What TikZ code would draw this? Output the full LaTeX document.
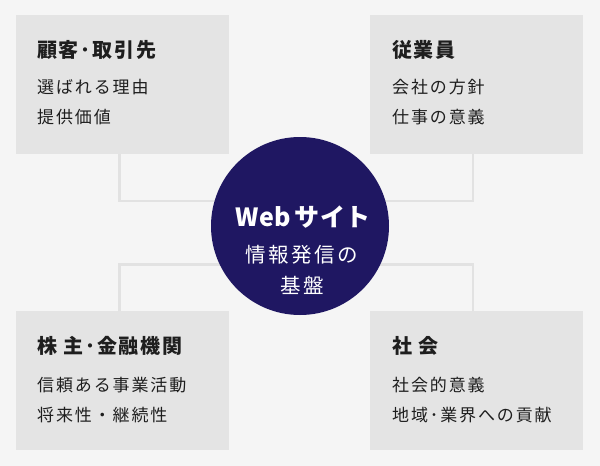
\documentclass[tikz,border=0pt]{standalone}
\usepackage{fontspec}
\setmainfont{Noto Sans CJK JP}
\newfontfamily\jpttl{Noto Sans CJK JP}[LetterSpace=9]
\newfontfamily\jpsub{Noto Sans CJK JP}[LetterSpace=11]
\newfontfamily\jpmid{Noto Sans CJK JP}[LetterSpace=12]
\newfontfamily\jpnarrow{Noto Sans CJK JP}[LetterSpace=2]
\definecolor{bg}{HTML}{F5F5F5}
\definecolor{boxc}{HTML}{E4E4E4}
\definecolor{linec}{HTML}{E2E2E2}
\definecolor{navy}{HTML}{1F1762}
\definecolor{ink}{HTML}{1E1E1E}
\begin{document}
\begin{tikzpicture}[x=1pt,y=-1pt,
  box/.style={fill=boxc,draw=none,minimum width=213pt,minimum height=139pt,inner sep=0pt,anchor=north west},
  ttl/.style={anchor=west,inner sep=0pt,text=ink,font=\jpttl\bfseries\fontsize{20}{24}\selectfont},
  sub/.style={anchor=west,inner sep=0pt,text=ink,font=\jpsub\fontsize{17}{20}\selectfont},
  conn/.style={draw=linec,line width=2.6pt},
  hub/.style={circle,fill=navy,minimum size=178pt,inner sep=0pt},
  hubt/.style={text=white,inner sep=0pt,font=\jpnarrow\bfseries\fontsize{25}{30}\selectfont},
  hubs/.style={text=white,inner sep=0pt,font=\jpmid\fontsize{20.5}{24}\selectfont}
]
\fill[bg] (0,0) rectangle (600,466);
\useasboundingbox (0,0) rectangle (600,466);

\node[box] (tl) at (16,15) {};
\node[box] (tr) at (370,15) {};
\node[box] (bl) at (16,311) {};
\node[box] (br) at (370,311) {};

\coordinate (hc) at (300,226);
\coordinate (j1) at (119.5,201);
\coordinate (j2) at (473,201);
\coordinate (j3) at (119.5,264.5);
\coordinate (j4) at (473,264.5);

\draw[conn] (tl.south -| j1) -- (j1) -- (j1 -| hc);
\draw[conn] (tr.south -| j2) -- (j2) -- (j2 -| hc);
\draw[conn] (bl.north -| j3) -- (j3) -- (j3 -| hc);
\draw[conn] (br.north -| j4) -- (j4) -- (j4 -| hc);

\node[hub] (web) at (hc) {};
\node[hubt] (webt) at (303,217) {Web\hspace{4pt}サイト};
\node[hubs] (webs1) at (302,255) {情報発信の};
\node[hubs] (webs2) at (302,285) {基盤};

\node[ttl] (tlt) at (37,50) {顧客･取引先};
\node[sub] (tls1) at (37,87) {選ばれる理由};
\node[sub] (tls2) at (37,117) {提供価値};

\node[ttl] (trt) at (392,50) {従業員};
\node[sub] (trs1) at (392,87) {会社の方針};
\node[sub] (trs2) at (392,117) {仕事の意義};

\node[ttl] (blt) at (37,346) {株 主･金融機関};
\node[sub] (bls1) at (37,385) {信頼ある事業活動};
\node[sub] (bls2) at (37,415) {将来性・継続性};

\node[ttl] (brt) at (392,346) {社 会};
\node[sub] (brs1) at (392,385) {社会的意義};
\node[sub] (brs2) at (392,415) {地域･業界への貢献};
\end{tikzpicture}
\end{document}
